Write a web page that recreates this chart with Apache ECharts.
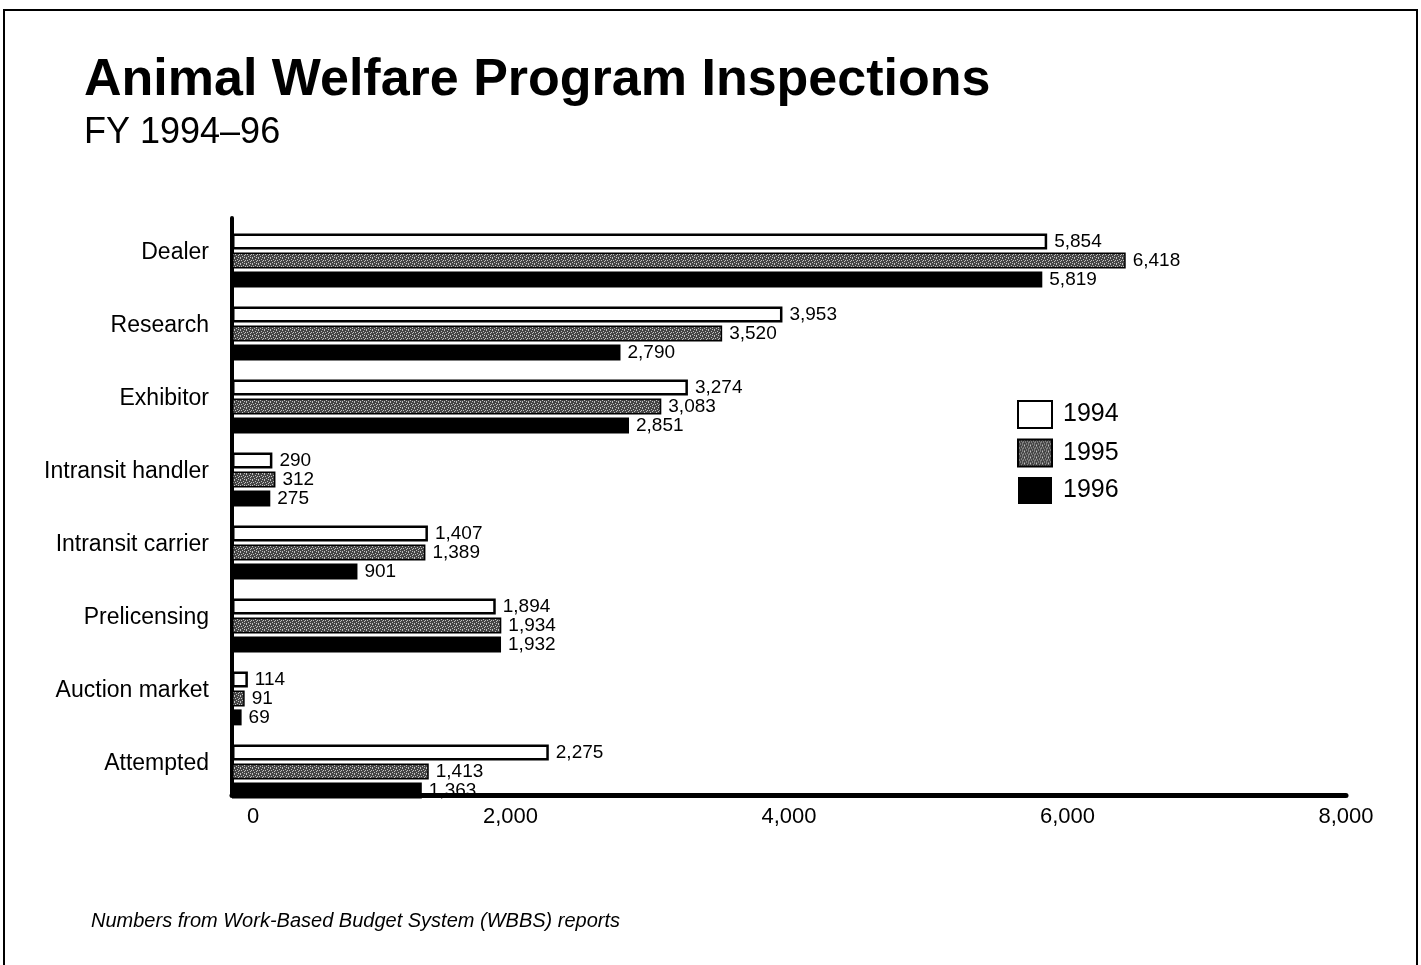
<!DOCTYPE html>
<html>
<head>
<meta charset="utf-8">
<script src="https://cdn.jsdelivr.net/npm/echarts@6/dist/echarts.min.js"></script>
<style>
html,body{margin:0;padding:0;background:#fff;}
#chart{width:1421px;height:965px;}
</style>
</head>
<body>
<div id="chart"></div>
<script>
const categories = ['Dealer','Research','Exhibitor','Intransit handler','Intransit carrier','Prelicensing','Auction market','Attempted'];
const years = ['1994','1995','1996'];
const values1994 = [5854, 3953, 3274, 290, 1407, 1894, 114, 2275];
const values1995 = [6418, 3520, 3083, 312, 1389, 1934, 91, 1413];
const values1996 = [5819, 2790, 2851, 275, 901, 1932, 69, 1363];
const xTicks = [0, 2000, 4000, 6000, 8000];

// stippled gray pattern for 1995
const pc = document.createElement('canvas');
pc.width = 6; pc.height = 6;
const pctx = pc.getContext('2d');
pctx.fillStyle = '#454545';
pctx.fillRect(0,0,6,6);
pctx.fillStyle = '#c0c0c0';
[[0,0],[3,1],[1,2],[5,2],[2,4],[4,3],[0,5],[4,5]].forEach(p=>pctx.fillRect(p[0],p[1],1,1));
const pattern = {image: pc, repeat: 'repeat'};

const font = '"Liberation Sans", Arial, Helvetica, sans-serif';
const chart = echarts.init(document.getElementById('chart'));
const fmt = v => v.toLocaleString('en-US');

function mkSeries(name, data, style) {
  return {
    name, type: 'bar', data, xAxisIndex: 0, yAxisIndex: 0,
    barWidth: 16, barGap: '18%',
    itemStyle: style,
    label: {show: true, position: 'right', distance: 7, color: '#000', fontFamily: font, fontSize: 19,
      formatter: p => fmt(p.value)},
    emphasis: {disabled: true}
  };
}

chart.setOption({
  animation: false,
  backgroundColor: '#fff',
  title: [
    {text: 'Animal Welfare Program Inspections', left: 79, top: 50,
     textStyle: {fontFamily: font, fontSize: 52, fontWeight: 'bold', color: '#000'}},
    {text: 'FY 1994–96', left: 79, top: 110,
     textStyle: {fontFamily: font, fontSize: 36, fontWeight: 'normal', color: '#000'}},
    {text: 'Numbers from Work-Based Budget System (WBBS) reports', left: 86, top: 906,
     textStyle: {fontFamily: font, fontSize: 20, fontStyle: 'italic', fontWeight: 'normal', color: '#000'}}
  ],
  legend: {
    data: years.map(y => ({name: y, icon: 'rect'})), orient: 'vertical', left: 1012, top: 395,
    itemWidth: 34, itemHeight: 27, itemGap: 9.5,
    textStyle: {fontFamily: font, fontSize: 25, color: '#000', padding: [0,0,0,6]},
    selectedMode: false
  },
  grid: [
    {left: 232, right: 75, top: 224, height: 584},
    {left: 232, right: 75, top: 218, bottom: 170}
  ],
  xAxis: [
    {type: 'value', gridIndex: 0, min: 0, max: 8000, show: false},
    {type: 'value', gridIndex: 1, min: 0, max: 8000, interval: 2000,
     axisLine: {show: true, lineStyle: {color: '#000', width: 5}},
     axisTick: {show: false}, splitLine: {show: false},
     axisLabel: {color: '#000', fontFamily: font, fontSize: 22, margin: 11,
       formatter: v => v === 0 ? '{z|0}' : fmt(v),
       rich: {z: {fontFamily: font, fontSize: 22, color: '#000', padding: [0,0,0,42]}}}}
  ],
  yAxis: [
    {type: 'category', gridIndex: 0, data: categories, inverse: true,
     axisLine: {show: false}, axisTick: {show: false},
     axisLabel: {color: '#000', fontFamily: font, fontSize: 23, margin: 23,
       verticalAlign: 'bottom', lineHeight: 16}},
    {type: 'value', gridIndex: 1, min: 0, max: 1,
     axisLine: {show: true, onZero: false, lineStyle: {color: '#000', width: 4}},
     axisTick: {show: false}, splitLine: {show: false}, axisLabel: {show: false}}
  ],
  graphic: [
    {type: 'rect', shape: {x: 4, y: 10, width: 1413, height: 980}, silent: true,
     style: {fill: 'none', stroke: '#000', lineWidth: 2}}
  ],
  series: [
    mkSeries('1994', values1994, {color: '#fff', borderColor: '#000', borderWidth: 2.5}),
    mkSeries('1995', values1995, {color: pattern, borderColor: '#000', borderWidth: 1.5}),
    mkSeries('1996', values1996, {color: '#000'})
  ]
});
</script>
</body>
</html>
